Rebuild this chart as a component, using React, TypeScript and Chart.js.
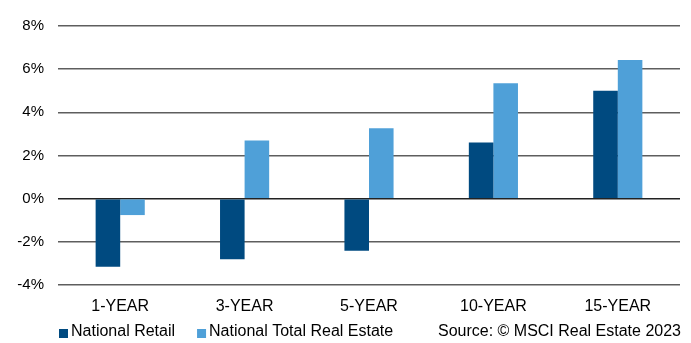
import React, { useEffect, useRef } from "react";
import { Chart, registerables } from "chart.js";
Chart.register(...registerables);

const categories = ["1-YEAR", "3-YEAR", "5-YEAR", "10-YEAR", "15-YEAR"];
const retail = [-3.15, -2.81, -2.41, 2.6, 5.0];
const totalRE = [-0.76, 2.69, 3.26, 5.35, 6.42];
const seriesNames = ["National Retail", "National Total Real Estate"];
const seriesColors = ["#004A80", "#4FA0D8"];
const sourceText = "Source: © MSCI Real Estate 2023";

const FONT = "'Liberation Sans', Arial, sans-serif";

const legendPlugin = {
  id: "customLegend",
  afterDraw(chart: any) {
    const ctx = chart.ctx;
    ctx.save();
    ctx.font = `16px ${FONT}`;
    ctx.textBaseline = "middle";
    const y = 332;
    let x = chart.chartArea.left + 1;
    seriesNames.forEach((name, i) => {
      ctx.fillStyle = seriesColors[i];
      ctx.fillRect(x, y - 3, 9, 9);
      ctx.fillStyle = "#000";
      ctx.textAlign = "left";
      ctx.fillText(name, x + 12, y);
      x += 12 + ctx.measureText(name).width + 22;
    });
    ctx.textAlign = "right";
    ctx.fillStyle = "#000";
    ctx.fillText(sourceText, chart.chartArea.right + 1, y);
    ctx.restore();
  },
};

export default function App() {
  const ref = useRef<HTMLCanvasElement>(null);
  useEffect(() => {
    document.body.style.margin = "0";
    const chart = new Chart(ref.current!, {
      type: "bar",
      data: {
        labels: categories,
        datasets: [
          { label: seriesNames[0], data: retail, backgroundColor: seriesColors[0], borderWidth: 0 },
          { label: seriesNames[1], data: totalRE, backgroundColor: seriesColors[1], borderWidth: 0 },
        ],
      },
      options: {
        animation: false,
        responsive: false,
        maintainAspectRatio: false,
        layout: { padding: { left: 0, right: 11, top: 26, bottom: 0 } },
        datasets: { bar: { barPercentage: 1, categoryPercentage: 0.395 } } as any,
        scales: {
          x: {
            grid: { display: false },
            border: { display: false },
            ticks: { color: "#000", font: { family: FONT, size: 16 }, padding: 4 },
            afterFit: (s: any) => {
              s.height = 58;
            },
          },
          y: {
            min: -4,
            max: 8,
            ticks: {
              stepSize: 2,
              color: "#000",
              font: { family: FONT, size: 15 },
              padding: 14,
              callback: (v: any) => `${v}%`,
            },
            grid: {
              color: (c: any) => (c.tick && c.tick.value === 0 ? "#222" : "#5e5e5e"),
              lineWidth: 1.5,
              drawTicks: false,
            },
            border: { display: false },
            afterFit: (s: any) => {
              s.width = 58;
            },
          },
        },
        plugins: {
          legend: { display: false },
          tooltip: { enabled: false },
        },
      },
      plugins: [legendPlugin],
    });
    return () => chart.destroy();
  }, []);
  return <canvas ref={ref} width={691} height={343} style={{ display: "block" }} />;
}
